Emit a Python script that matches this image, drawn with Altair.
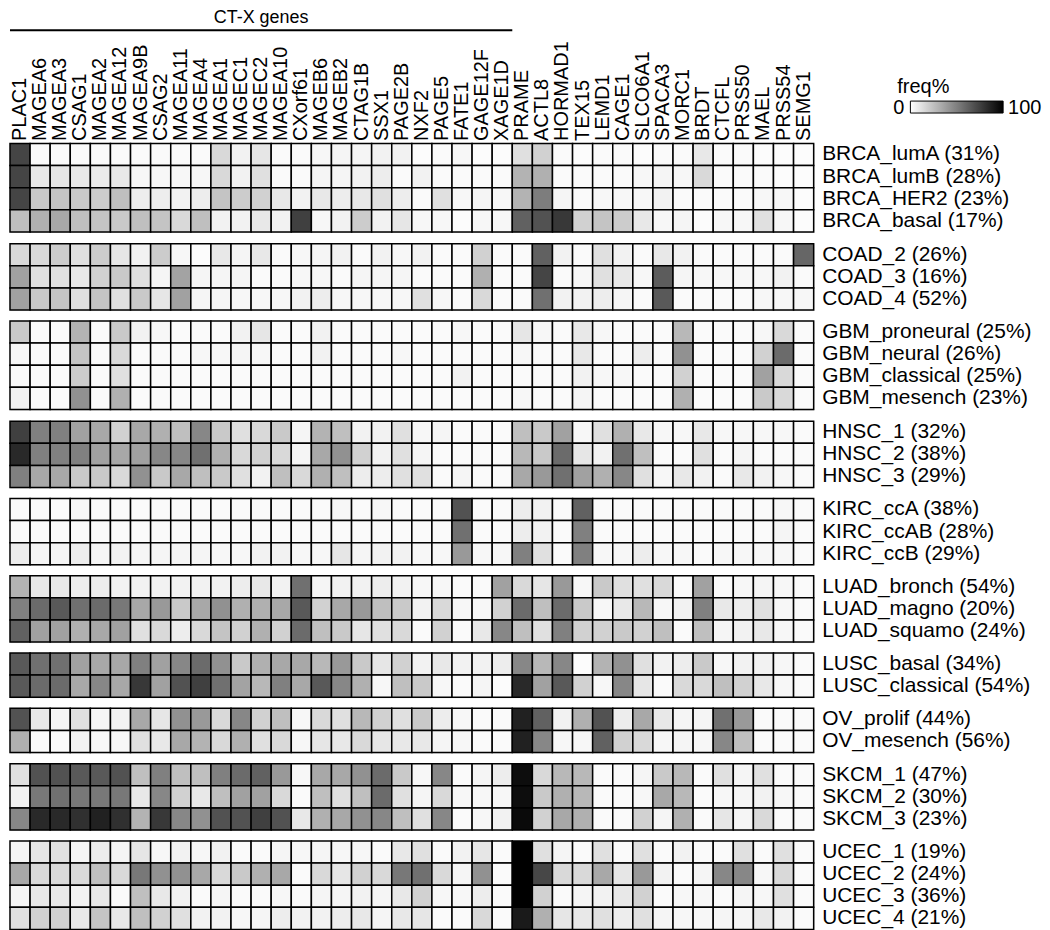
import altair as alt
import pandas as pd

FONT = "Arial"

genes = ["PLAC1", "MAGEA6", "MAGEA3", "CSAG1", "MAGEA2", "MAGEA12", "MAGEA9B", "CSAG2",
         "MAGEA11", "MAGEA4", "MAGEA1", "MAGEC1", "MAGEC2", "MAGEA10", "CXorf61", "MAGEB6",
         "MAGEB2", "CTAG1B", "SSX1", "PAGE2B", "NXF2", "PAGE5", "FATE1", "GAGE12F", "XAGE1D",
         "PRAME", "ACTL8", "HORMAD1", "TEX15", "LEMD1", "CAGE1", "SLCO6A1", "SPACA3", "MORC1",
         "BRDT", "CTCFL", "PRSS50", "MAEL", "PRSS54", "SEMG1"]
ctx_last_gene = "XAGE1D"
ctx_title = "CT-X genes"
legend_title = "freq%"
legend_min_label = "0"
legend_max_label = "100"

# freq% per subtype (row) and gene (column)
brca_luma = [73, 2, 2, 2, 2, 2, 2, 2, 2, 2, 15, 5, 10, 2, 2, 3, 4, 4, 5, 5, 1, 2, 3, 1, 1, 12, 18, 2, 1, 2, 2, 1, 2, 2, 9, 2, 2, 1, 1, 1]
brca_lumb = [73, 9, 10, 9, 8, 9, 3, 3, 3, 3, 15, 5, 12, 2, 2, 4, 4, 5, 7, 2, 5, 2, 2, 2, 2, 30, 31, 2, 2, 2, 2, 3, 4, 3, 15, 2, 2, 2, 1, 1]
brca_her2 = [73, 21, 23, 21, 20, 25, 7, 7, 5, 7, 23, 20, 18, 9, 5, 9, 7, 9, 12, 7, 2, 12, 3, 4, 3, 30, 51, 4, 2, 3, 3, 3, 5, 2, 2, 2, 2, 3, 3, 1]
brca_basal = [25, 31, 34, 25, 23, 21, 25, 23, 15, 25, 5, 5, 9, 5, 75, 3, 5, 20, 5, 10, 3, 3, 1, 3, 3, 62, 68, 78, 18, 23, 20, 9, 3, 4, 1, 3, 3, 12, 3, 1]

coad_2 = [15, 15, 20, 12, 20, 10, 5, 20, 3, 1, 9, 4, 9, 2, 3, 4, 5, 2, 5, 3, 5, 2, 2, 18, 2, 2, 62, 5, 2, 12, 5, 2, 9, 5, 2, 2, 2, 2, 2, 60]
coad_3 = [37, 12, 12, 9, 18, 21, 12, 4, 36, 4, 4, 4, 2, 2, 3, 3, 2, 4, 4, 4, 2, 2, 2, 31, 2, 2, 73, 2, 3, 12, 9, 3, 64, 4, 3, 3, 3, 3, 5, 2]
coad_4 = [37, 21, 23, 12, 23, 12, 21, 10, 37, 4, 4, 3, 3, 3, 5, 7, 3, 3, 3, 3, 12, 3, 2, 15, 2, 2, 56, 5, 5, 7, 4, 2, 65, 2, 2, 2, 2, 3, 3, 3]

gbm_proneural = [21, 2, 2, 30, 2, 21, 5, 3, 2, 2, 2, 5, 10, 2, 2, 5, 2, 2, 2, 2, 2, 2, 3, 2, 2, 10, 3, 2, 9, 3, 2, 2, 2, 28, 2, 2, 2, 3, 15, 2]
gbm_neural = [3, 2, 2, 23, 2, 15, 2, 2, 2, 3, 3, 4, 3, 2, 2, 5, 2, 2, 2, 3, 2, 2, 2, 2, 2, 3, 2, 2, 9, 2, 2, 7, 2, 43, 2, 2, 2, 18, 58, 2]
gbm_classical = [2, 2, 2, 20, 2, 12, 2, 2, 2, 2, 2, 2, 2, 2, 2, 2, 2, 2, 2, 2, 2, 2, 5, 2, 2, 2, 2, 2, 5, 3, 3, 2, 2, 18, 2, 2, 2, 37, 15, 2]
gbm_mesench = [5, 2, 2, 43, 2, 31, 2, 2, 2, 2, 2, 2, 2, 2, 2, 2, 2, 2, 2, 2, 2, 2, 2, 2, 2, 3, 2, 2, 4, 2, 2, 2, 2, 31, 2, 2, 2, 21, 15, 2]

hnsc_1 = [75, 50, 50, 37, 34, 18, 34, 31, 25, 47, 21, 12, 15, 21, 4, 30, 25, 5, 5, 12, 3, 4, 2, 2, 2, 25, 21, 37, 3, 12, 31, 9, 3, 3, 9, 3, 3, 3, 3, 2]
hnsc_2 = [84, 50, 50, 50, 37, 34, 37, 47, 47, 56, 31, 15, 18, 15, 4, 34, 43, 18, 5, 12, 4, 2, 2, 2, 2, 28, 21, 58, 10, 5, 56, 25, 2, 2, 12, 2, 4, 2, 2, 2]
hnsc_3 = [50, 34, 34, 21, 21, 15, 43, 21, 34, 25, 21, 12, 5, 25, 15, 31, 25, 7, 7, 12, 12, 2, 4, 2, 2, 34, 40, 56, 37, 31, 47, 12, 3, 9, 5, 2, 9, 5, 3, 2]

kirc_cca = [2, 2, 2, 3, 2, 2, 2, 2, 2, 2, 2, 2, 2, 2, 2, 2, 3, 2, 3, 2, 2, 2, 68, 2, 2, 7, 5, 2, 62, 2, 2, 2, 2, 2, 2, 2, 2, 2, 3, 2]
kirc_ccab = [2, 2, 2, 2, 2, 2, 2, 2, 2, 2, 2, 2, 2, 2, 2, 2, 2, 2, 2, 2, 2, 2, 56, 2, 2, 7, 5, 2, 50, 2, 2, 2, 2, 2, 2, 2, 2, 2, 4, 2]
kirc_ccb = [7, 4, 4, 7, 4, 5, 4, 4, 4, 4, 3, 3, 5, 5, 3, 3, 10, 4, 5, 5, 3, 3, 40, 3, 3, 50, 12, 2, 50, 3, 3, 7, 3, 3, 2, 3, 3, 3, 3, 2]

luad_bronch = [30, 9, 9, 7, 7, 5, 5, 5, 5, 5, 5, 7, 9, 5, 56, 4, 5, 5, 7, 5, 3, 3, 2, 2, 37, 15, 10, 40, 3, 21, 12, 12, 15, 2, 37, 2, 3, 4, 3, 2]
luad_magno = [50, 58, 65, 56, 58, 53, 34, 40, 21, 34, 43, 31, 31, 34, 65, 18, 34, 40, 25, 21, 5, 15, 3, 3, 18, 58, 25, 58, 21, 3, 9, 28, 3, 5, 50, 9, 7, 12, 3, 2]
luad_squamo = [62, 37, 37, 31, 34, 37, 12, 15, 7, 15, 23, 18, 31, 18, 58, 25, 21, 10, 12, 15, 2, 18, 2, 9, 47, 25, 12, 50, 18, 18, 21, 18, 25, 2, 25, 4, 5, 9, 3, 2]

lusc_basal = [65, 56, 56, 37, 34, 34, 50, 37, 47, 58, 43, 21, 31, 34, 34, 28, 40, 21, 10, 18, 5, 9, 5, 5, 7, 47, 28, 47, 1, 30, 43, 12, 5, 7, 21, 3, 5, 5, 3, 2]
lusc_classical = [65, 58, 58, 34, 47, 34, 78, 37, 68, 75, 56, 36, 28, 50, 34, 65, 47, 31, 3, 25, 21, 3, 2, 4, 1, 84, 37, 65, 18, 3, 47, 10, 2, 15, 15, 25, 18, 9, 3, 2]

ov_prolif = [68, 9, 4, 12, 4, 5, 34, 10, 43, 40, 15, 47, 18, 25, 3, 15, 12, 28, 18, 12, 21, 7, 3, 2, 2, 87, 62, 5, 31, 68, 7, 34, 9, 4, 4, 56, 40, 2, 2, 2]
ov_mesench = [31, 2, 2, 5, 3, 3, 12, 9, 34, 30, 15, 31, 12, 15, 3, 10, 9, 15, 10, 9, 9, 4, 3, 2, 2, 87, 47, 3, 3, 62, 18, 15, 3, 4, 3, 47, 25, 2, 2, 2]

skcm_1 = [12, 68, 68, 65, 65, 68, 25, 50, 25, 25, 50, 58, 62, 40, 3, 34, 34, 43, 58, 21, 3, 47, 2, 4, 7, 95, 15, 28, 28, 2, 2, 4, 21, 28, 2, 12, 4, 12, 2, 2]
skcm_2 = [5, 53, 56, 53, 53, 53, 9, 47, 18, 9, 25, 37, 37, 15, 2, 25, 12, 25, 58, 12, 4, 15, 3, 3, 3, 95, 21, 31, 28, 2, 2, 3, 34, 28, 2, 3, 4, 5, 3, 2]
skcm_3 = [47, 84, 84, 81, 87, 81, 30, 78, 47, 43, 68, 68, 75, 68, 9, 31, 34, 43, 47, 25, 12, 47, 2, 3, 5, 96, 18, 34, 31, 2, 2, 18, 4, 31, 2, 10, 4, 15, 2, 2]

ucec_1 = [4, 10, 12, 4, 7, 4, 10, 3, 5, 3, 5, 2, 2, 4, 3, 4, 3, 3, 2, 9, 12, 2, 5, 10, 2, 100, 12, 4, 2, 12, 2, 12, 2, 5, 2, 2, 12, 2, 12, 2]
ucec_2 = [34, 15, 15, 15, 25, 15, 53, 43, 43, 34, 15, 21, 31, 34, 2, 15, 10, 18, 15, 53, 56, 15, 4, 43, 2, 100, 72, 15, 15, 34, 10, 40, 5, 2, 4, 47, 47, 3, 15, 2]
ucec_3 = [4, 9, 9, 5, 9, 2, 25, 9, 5, 2, 4, 2, 2, 3, 2, 4, 4, 5, 4, 9, 18, 3, 3, 7, 2, 100, 18, 2, 4, 5, 9, 18, 2, 3, 3, 2, 4, 3, 12, 2]
ucec_4 = [12, 18, 18, 9, 23, 9, 25, 18, 12, 5, 5, 3, 4, 7, 5, 5, 7, 9, 4, 9, 10, 2, 2, 15, 2, 90, 31, 10, 9, 12, 7, 12, 4, 3, 3, 4, 4, 9, 5, 2]

groups = [
    (["BRCA_lumA (31%)", "BRCA_lumB (28%)", "BRCA_HER2 (23%)", "BRCA_basal (17%)"],
     [brca_luma, brca_lumb, brca_her2, brca_basal]),
    (["COAD_2 (26%)", "COAD_3 (16%)", "COAD_4 (52%)"], [coad_2, coad_3, coad_4]),
    (["GBM_proneural (25%)", "GBM_neural (26%)", "GBM_classical (25%)", "GBM_mesench (23%)"],
     [gbm_proneural, gbm_neural, gbm_classical, gbm_mesench]),
    (["HNSC_1 (32%)", "HNSC_2 (38%)", "HNSC_3 (29%)"], [hnsc_1, hnsc_2, hnsc_3]),
    (["KIRC_ccA (38%)", "KIRC_ccAB (28%)", "KIRC_ccB (29%)"], [kirc_cca, kirc_ccab, kirc_ccb]),
    (["LUAD_bronch (54%)", "LUAD_magno (20%)", "LUAD_squamo (24%)"], [luad_bronch, luad_magno, luad_squamo]),
    (["LUSC_basal (34%)", "LUSC_classical (54%)"], [lusc_basal, lusc_classical]),
    (["OV_prolif (44%)", "OV_mesench (56%)"], [ov_prolif, ov_mesench]),
    (["SKCM_1 (47%)", "SKCM_2 (30%)", "SKCM_3 (23%)"], [skcm_1, skcm_2, skcm_3]),
    (["UCEC_1 (19%)", "UCEC_2 (24%)", "UCEC_3 (36%)", "UCEC_4 (21%)"], [ucec_1, ucec_2, ucec_3, ucec_4]),
]

W = 806
RH = 22.2

legend = alt.Legend(
    title=None, orient="none", legendX=903, legendY=92, direction="horizontal",
    gradientLength=93, gradientThickness=12, values=[0, 100],
    labelOpacity=0, labelFontSize=8,
    gradientStrokeColor="black", gradientStrokeWidth=1,
)

color = alt.Color(
    "freq:Q",
    scale=alt.Scale(domain=[0, 100], range=["white", "black"], interpolate="rgb"),
    legend=legend,
)

# header: CT-X genes bracket
n_ctx = genes.index(ctx_last_gene) + 1
header_df = pd.DataFrame([{"start": 0, "end": n_ctx, "mid": n_ctx / 2, "label": ctx_title}])
hx = alt.Scale(domain=[0, len(genes)], nice=False, zero=False)
header_rule = alt.Chart(header_df).mark_rule(color="black", strokeWidth=2).encode(
    x=alt.X("start:Q", scale=hx, axis=None), x2="end:Q", y=alt.value(21)
)
header_text = alt.Chart(header_df).mark_text(fontSize=18, font=FONT, baseline="middle").encode(
    x=alt.X("mid:Q", scale=hx, axis=None), y=alt.value(9), text="label:N"
)
header = alt.layer(header_rule, header_text).properties(
    width=W, height=23, view=alt.ViewBackground(strokeOpacity=0)
)

# legend texts (drawn above the first heatmap, inside the axis-label band)
leg_df = pd.DataFrame([{"t": legend_title, "lo": legend_min_label, "hi": legend_max_label}])
leg_title = alt.Chart(leg_df).mark_text(fontSize=20, font=FONT, baseline="middle", align="center").encode(
    x=alt.value(916), y=alt.value(-57), text="t:N"
)
leg_lo = alt.Chart(leg_df).mark_text(fontSize=20, font=FONT, baseline="middle", align="right").encode(
    x=alt.value(897), y=alt.value(-36), text="lo:N"
)
leg_hi = alt.Chart(leg_df).mark_text(fontSize=20, font=FONT, baseline="middle", align="left").encode(
    x=alt.value(1001), y=alt.value(-36), text="hi:N"
)

panels = [header]
for gi, (labels, rows) in enumerate(groups):
    recs = []
    for lab, vals in zip(labels, rows):
        for g, v in zip(genes, vals):
            recs.append({"row": lab, "gene": g, "freq": v})
    df = pd.DataFrame(recs)
    if gi == 0:
        xaxis = alt.Axis(orient="top", labelAngle=270, domain=False, ticks=False, labelPadding=3,
                         labelFontSize=20, labelFont=FONT, title=None, labelColor="black")
    else:
        xaxis = None
    ch = alt.Chart(df).mark_rect(stroke="black", strokeWidth=1.5).encode(
        x=alt.X("gene:N", sort=genes,
                scale=alt.Scale(domain=genes, paddingInner=0, paddingOuter=0), axis=xaxis),
        y=alt.Y("row:N", sort=labels,
                scale=alt.Scale(domain=labels, paddingInner=0, paddingOuter=0),
                axis=alt.Axis(orient="right", domain=False, ticks=False, labelPadding=8,
                              labelFontSize=21, labelFont=FONT, labelLimit=400, title=None,
                              labelColor="black")),
        color=color,
    ).properties(width=W, height=RH * len(labels))
    if gi == 0:
        ch = alt.layer(ch, leg_title, leg_lo, leg_hi)
    panels.append(ch)

chart = alt.vconcat(*panels, spacing=7.5).resolve_scale(
    x="independent", y="independent", color="shared"
).properties(padding=0).configure_view(stroke="black", strokeWidth=2).configure(font=FONT)

chart.save("out.html", embed_options={"renderer": "svg", "actions": False})
